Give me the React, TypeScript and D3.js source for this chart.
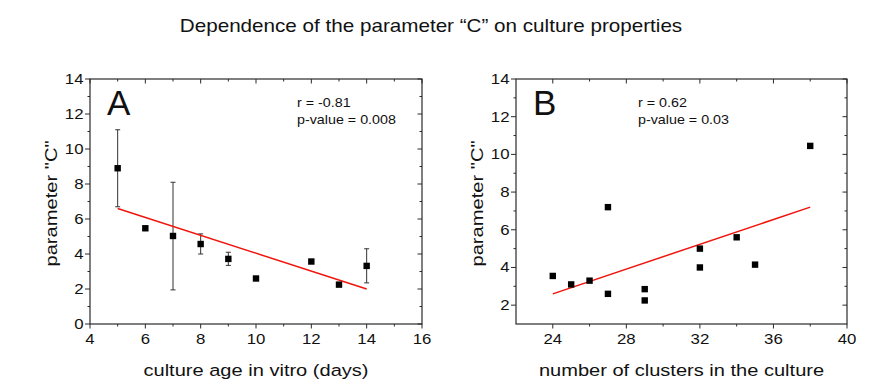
import React from 'react';
import * as d3 from 'd3';

// panel A: culture age vs parameter C (mean with error bars)
const ageDays = [5, 6, 7, 8, 9, 10, 12, 13, 14];
const ageC = [8.9, 5.47, 5.03, 4.57, 3.72, 2.6, 3.57, 2.25, 3.32];
const ageLow = [6.7, 5.4, 1.95, 4.0, 3.35, 2.6, 3.57, 2.25, 2.35];
const ageHigh = [11.1, 5.55, 8.1, 5.15, 4.1, 2.6, 3.57, 2.25, 4.3];
const ageFit = [[5, 6.6], [14, 2.0]];
const ageXTicks = [4, 6, 8, 10, 12, 14, 16];
const ageYTicks = [0, 2, 4, 6, 8, 10, 12, 14];

// panel B: number of clusters vs parameter C
const clusters = [24, 25, 26, 27, 27, 29, 29, 32, 32, 34, 35, 38];
const clusterC = [3.55, 3.1, 3.3, 7.2, 2.6, 2.85, 2.25, 5.0, 4.0, 5.6, 4.15, 10.45];
const clusterFit = [[24, 2.6], [38, 7.2]];
const clusterXTicks = [24, 28, 32, 36, 40];
const clusterYTicks = [2, 4, 6, 8, 10, 12, 14];

const FONT = 'Liberation Sans, Arial, sans-serif';
const AX = '#2a2a2a';
const TXT = '#111';

// text in the original is drawn a bit wider than plain Arial, so stretch it
const Txt = ({ x, y, size, sx = 1.2, rot = 0, anchor = 'start', children }:
  { x: number; y: number; size: number; sx?: number; rot?: number; anchor?: string; children: any }) => (
  <g transform={`translate(${x}, ${y}) rotate(${rot}) scale(${sx}, 1)`}>
    <text textAnchor={anchor} fontSize={size} fontFamily={FONT} fill={TXT}>{children}</text>
  </g>
);

type PanelProps = {
  left: number; right: number; top: number; bottom: number;
  xDomain: [number, number]; yDomain: [number, number];
  xTicks: number[]; yTicks: number[]; xMinor: number[]; yMinor: number[];
  xs: number[]; ys: number[]; lo?: number[]; hi?: number[];
  fit: number[][]; letter: string; r: string; p: string; xTitle: string;
  statsX: number;
};

const Panel = (props: PanelProps) => {
  const { left, right, top, bottom } = props;
  const x = d3.scaleLinear().domain(props.xDomain).range([left, right]);
  const y = d3.scaleLinear().domain(props.yDomain).range([bottom, top]);
  const line = d3.line<number[]>().x((d) => x(d[0])).y((d) => y(d[1]));

  return (
    <g>
      <rect x={left} y={top} width={right - left} height={bottom - top}
        fill="none" stroke={AX} strokeWidth={1.2} />
      {/* bottom + top ticks */}
      {props.xTicks.map((t) => (
        <g key={'xt' + t}>
          <line x1={x(t)} x2={x(t)} y1={bottom} y2={bottom + 4.5} stroke={AX} />
          <line x1={x(t)} x2={x(t)} y1={top} y2={top + 4.5} stroke={AX} />
          <Txt x={x(t)} y={bottom + 19.5} size={14} anchor="middle">{t}</Txt>
        </g>
      ))}
      {props.xMinor.map((t) => (
        <g key={'xm' + t}>
          <line x1={x(t)} x2={x(t)} y1={bottom} y2={bottom + 2.5} stroke={AX} />
          <line x1={x(t)} x2={x(t)} y1={top} y2={top + 2.5} stroke={AX} />
        </g>
      ))}
      {/* left + right ticks */}
      {props.yTicks.map((t) => (
        <g key={'yt' + t}>
          <line x1={left - 5} x2={left} y1={y(t)} y2={y(t)} stroke={AX} />
          <line x1={right - 4.5} x2={right} y1={y(t)} y2={y(t)} stroke={AX} />
          <Txt x={left - 6.5} y={y(t) + 5} size={14} anchor="end">{t}</Txt>
        </g>
      ))}
      {props.yMinor.map((t) => (
        <g key={'ym' + t}>
          <line x1={left - 2.5} x2={left} y1={y(t)} y2={y(t)} stroke={AX} />
          <line x1={right - 2.5} x2={right} y1={y(t)} y2={y(t)} stroke={AX} />
        </g>
      ))}

      {/* error bars */}
      {props.lo && props.hi && props.xs.map((v, i) => {
        const lo = props.lo![i], hi = props.hi![i];
        if (hi - lo < 0.01) return null;
        return (
          <g key={'eb' + i} stroke="#333" strokeWidth={1}>
            <line x1={x(v)} x2={x(v)} y1={y(lo)} y2={y(hi)} />
            <line x1={x(v) - 2.5} x2={x(v) + 2.5} y1={y(lo)} y2={y(lo)} />
            <line x1={x(v) - 2.5} x2={x(v) + 2.5} y1={y(hi)} y2={y(hi)} />
          </g>
        );
      })}

      <path d={line(props.fit) || ''} fill="none" stroke="#f0140c" strokeWidth={1.5} />

      {props.xs.map((v, i) => (
        <rect key={'pt' + i} x={x(v) - 3.2} y={y(props.ys[i]) - 3.2}
          width={6.4} height={6.4} fill="#000" />
      ))}

      <Txt x={left + 17} y={115} size={35} sx={1}>{props.letter}</Txt>
      <Txt x={props.statsX} y={107} size={13} sx={1.1}>{props.r}</Txt>
      <Txt x={props.statsX} y={124} size={13} sx={1.1}>{props.p}</Txt>

      <Txt x={(left + right) / 2} y={376} size={17} sx={1.18} anchor="middle">{props.xTitle}</Txt>
      <Txt x={left - 33} y={(top + bottom) / 2 + 2} size={16.5} sx={1.22} rot={-90}
        anchor="middle">parameter "C"</Txt>
    </g>
  );
};

const App = () => {
  const ageMinor = d3.range(5, 16, 2);
  const ageYMinor = d3.range(1, 14, 2);
  const clMinor = d3.range(26, 40, 4);
  const clYMinor = d3.range(3, 14, 2);

  return (
    <svg width={872} height={392} style={{ position: 'absolute', left: 0, top: 0, background: '#fff' }}>
      <rect width={872} height={392} fill="#fff" />
      <Txt x={431} y={32} size={17.5} sx={1.18} anchor="middle">
        Dependence of the parameter “C” on culture properties
      </Txt>
      <Panel left={90} right={422} top={79} bottom={324}
        xDomain={[4, 16]} yDomain={[0, 14]}
        xTicks={ageXTicks} yTicks={ageYTicks} xMinor={ageMinor} yMinor={ageYMinor}
        xs={ageDays} ys={ageC} lo={ageLow} hi={ageHigh} fit={ageFit}
        letter="A" r="r = -0.81" p="p-value = 0.008"
        xTitle="culture age in vitro (days)" statsX={297} />
      <Panel left={516} right={847} top={79} bottom={324}
        xDomain={[22, 40]} yDomain={[1, 14]}
        xTicks={clusterXTicks} yTicks={clusterYTicks} xMinor={clMinor} yMinor={clYMinor}
        xs={clusters} ys={clusterC} fit={clusterFit}
        letter="B" r="r = 0.62" p="p-value = 0.03"
        xTitle="number of clusters in the culture" statsX={638} />
    </svg>
  );
};

export default App;
